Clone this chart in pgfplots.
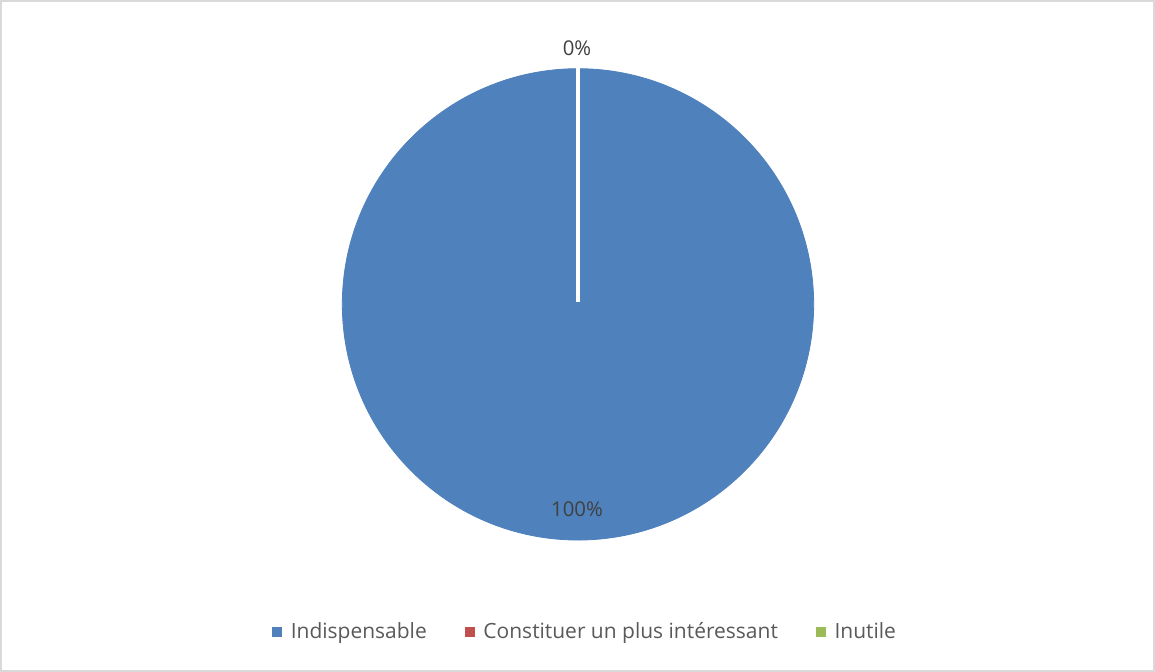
\documentclass[border=0pt]{standalone}
\usepackage{pgfplots}
\pgfplotsset{compat=1.18}
\usepackage{fontspec}
\setmainfont{Open Sans}

\definecolor{cBlue}{HTML}{4F81BD}
\definecolor{cRed}{HTML}{C0504D}
\definecolor{cGreen}{HTML}{9BBB59}
\definecolor{cText}{HTML}{404040}
\definecolor{cLegend}{HTML}{595959}
\definecolor{cFrame}{HTML}{D9D9D9}

\begin{document}
\begin{tikzpicture}
\begin{axis}[
    set layers=standard,
    scale only axis,
    width=577.5pt, height=335.5pt,
    xmin=0, xmax=1155, ymin=0, ymax=671,
    ticks=none,
    axis line style={draw=cFrame, line width=0.8pt},
    clip=false,
    legend columns=3,
    legend style={
        at={(axis cs:586,39)}, anchor=center,
        draw=none, fill=none,
        font=\fontsize{10.5pt}{13pt}\selectfont,
        text=cLegend,
        /tikz/every even column/.append style={column sep=17pt},
    },
    legend image code/.code={%
        \fill[#1] (0pt,-2.25pt) rectangle (4.5pt,2.25pt);
        \path (7pt,0pt);},
]
    % pie: 100% Indispensable, 0% Constituer un plus interessant, 0% Inutile
    \addplot[forget plot, only marks, mark=*, mark size=118pt,
             mark options={fill=cBlue, draw=cBlue}, on layer=axis background]
        coordinates {(578,367)};
    % boundary of the 0% slices
    \addplot[forget plot, white, line width=2.2pt, on layer=axis foreground]
        coordinates {(578,369) (578,605)};

    \begin{pgfonlayer}{axis foreground}
    \node[text=cText, font=\fontsize{10.2pt}{12pt}\selectfont]
        at (axis cs:577,624) {0\%};
    \node[text=cText, font=\fontsize{10.2pt}{12pt}\selectfont]
        at (axis cs:577,162) {100\%};
    \end{pgfonlayer}

    \addlegendimage{cBlue}
    \addlegendentry{Indispensable}
    \addlegendimage{cRed}
    \addlegendentry{Constituer un plus intéressant}
    \addlegendimage{cGreen}
    \addlegendentry{Inutile}
\end{axis}
\end{tikzpicture}
\end{document}
